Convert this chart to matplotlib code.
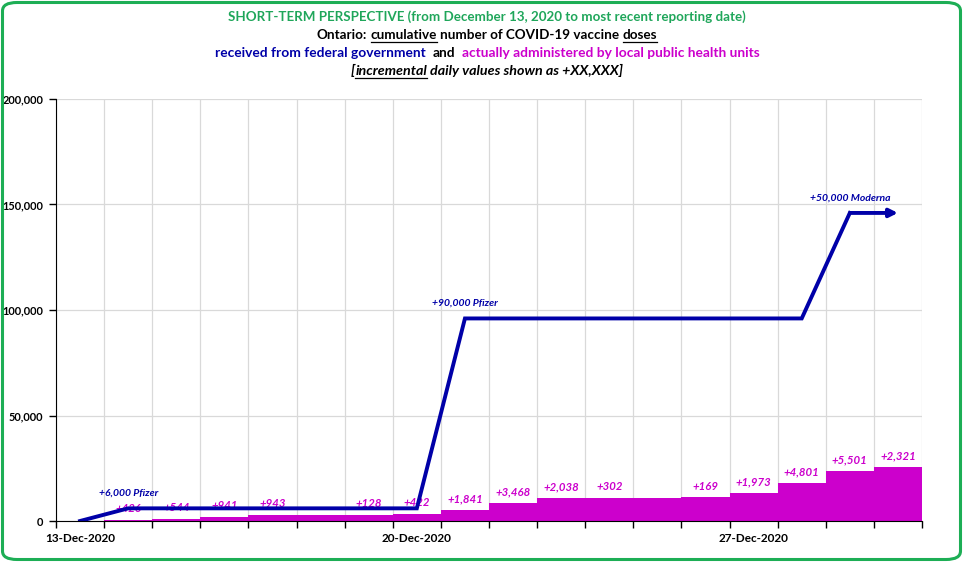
import matplotlib
matplotlib.use('Agg')
import matplotlib.pyplot as plt
from matplotlib.patches import FancyBboxPatch
from matplotlib.lines import Line2D
import numpy as np

plt.rcParams['font.family'] = ['Lato', 'DejaVu Sans']

# daily categories, 13-Dec-2020 .. 30-Dec-2020
days = ['13-Dec', '14-Dec', '15-Dec', '16-Dec', '17-Dec', '18-Dec', '19-Dec', '20-Dec', '21-Dec',
        '22-Dec', '23-Dec', '24-Dec', '25-Dec', '26-Dec', '27-Dec', '28-Dec', '29-Dec', '30-Dec']
date_labels = ['13-Dec-2020', '20-Dec-2020', '27-Dec-2020']
date_label_pos = [0, 7, 14]

# cumulative doses received from federal government
received = [0, 6000, 6000, 6000, 6000, 6000, 6000, 6000, 96000, 96000, 96000,
            96000, 96000, 96000, 96000, 96000, 146000, 146000]
shipment_text = ['', '+6,000 Pfizer', '', '', '', '', '', '', '+90,000 Pfizer', '', '', '',
                 '', '', '', '', '+50,000 Moderna', '']

# daily doses administered (incremental)
daily_given = [0, 426, 544, 941, 943, 0, 128, 422, 1841, 3468, 2038, 302, 0, 169,
               1973, 4801, 5501, 2321]
administered = np.cumsum(daily_given)

GREEN = '#1FA65A'
BLUE = '#0000A8'
MAG = '#CC00CC'

fig = plt.figure(figsize=(9.63, 5.62), dpi=100)
W, H = 963, 562

# green rounded frame
frame = FancyBboxPatch((2.5 / W, 2.5 / H), 958 / W, 557 / H, boxstyle='round,pad=0,rounding_size=0.015',
                       transform=fig.transFigure, fill=False, edgecolor='#1DAE55', linewidth=2.2)
fig.add_artist(frame)

ax = fig.add_axes([56 / W, 1 - 521 / H, (922 - 56) / W, (521 - 99) / H])
x = np.arange(len(days))

ax.bar(x, administered, width=1.0, color=MAG, zorder=2)
ax.plot(x[:-1], received[:-1], color=BLUE, lw=2.8, zorder=4, solid_joinstyle='miter')
ax.annotate('', xy=(x[-1], received[-1]), xytext=(x[-2], received[-2]),
            arrowprops=dict(arrowstyle='-|>', color=BLUE, lw=2.8, mutation_scale=12,
                            shrinkA=0, shrinkB=0), zorder=4)

for i, v in enumerate(daily_given):
    if v > 0:
        ax.annotate('+{:,}'.format(v), (x[i], administered[i]), xytext=(0, 8), textcoords='offset points',
                    ha='center', va='center', color=MAG, fontsize=8.2, fontweight='bold',
                    fontstyle='italic', zorder=3)
for i, s in enumerate(shipment_text):
    if s:
        ax.annotate(s, (x[i], received[i]), xytext=(0, 11), textcoords='offset points',
                    ha='center', va='center', color=BLUE, fontsize=7.5, fontweight='bold',
                    fontstyle='italic', zorder=5)

ax.set_xlim(-0.5, len(days) - 0.5)
ax.set_ylim(0, 200000)
ax.set_yticks(np.arange(0, 200001, 50000))
ax.set_yticklabels(['{:,}'.format(v) for v in range(0, 200001, 50000)], fontsize=7.9, fontweight='bold')
ax.set_xticks(np.arange(-0.5, len(days)), labels=[''] * (len(days) + 1))
ax.set_xticks(date_label_pos, labels=date_labels, minor=True)
ax.tick_params(axis='x', which='minor', length=0, pad=9, labelsize=8.5)
for t in ax.get_xticklabels(minor=True):
    t.set_fontweight('bold')
ax.tick_params(axis='x', which='major', length=5, width=1)
ax.tick_params(axis='y', length=5, width=1, pad=4)
ax.grid(True, which='major', color='#D9D9D9', lw=0.9)
ax.set_axisbelow(True)
for s in ['top', 'right']:
    ax.spines[s].set_visible(False)
ax.spines['left'].set_zorder(6)
ax.spines['bottom'].set_zorder(6)


def rich_line(y_px, parts, size, style='normal', cx=487):
    r = fig.canvas.get_renderer()
    sp = fig.text(0, 0, 'x x', fontsize=size, fontweight='bold', fontstyle=style)
    nsp = fig.text(0, 0, 'xx', fontsize=size, fontweight='bold', fontstyle=style)
    space = sp.get_window_extent(r).width - nsp.get_window_extent(r).width
    sp.remove()
    nsp.remove()
    items = []
    total = 0
    for s, c, ul, gap in parts:
        t = fig.text(0, 1 - y_px / H, s, color=c, fontsize=size, fontweight='bold',
                     fontstyle=style, va='baseline')
        w = t.get_window_extent(r).width
        items.append((t, w, ul, c))
        total += w + gap * space
    pos = cx - total / 2
    for (t, w, ul, c), (_, _, _, gap) in zip(items, parts):
        t.set_x(pos / W)
        if ul:
            yy = 1 - (y_px + 2.5) / H
            fig.add_artist(Line2D([pos / W, (pos + w) / W], [yy, yy], transform=fig.transFigure,
                                  color=c, lw=0.9))
        pos += w + gap * space


rich_line(21, [('SHORT-TERM PERSPECTIVE (from December 13, 2020 to most recent reporting date)', GREEN, False, 0)], 9.6)
rich_line(39, [('Ontario:', 'black', False, 1), ('cumulative', 'black', True, 1),
               ('number of COVID-19 vaccine', 'black', False, 1), ('doses', 'black', True, 0)], 9.7)
rich_line(57, [('received from federal government', BLUE, False, 2), ('and', 'black', False, 2),
               ('actually administered by local public health units', MAG, False, 0)], 9.9)
rich_line(75, [('[', 'black', False, 0), ('incremental', 'black', True, 1),
               ('daily values shown as +XX,XXX]', 'black', False, 0)], 10.3, 'italic')

fig.savefig('out.png', dpi=100)
